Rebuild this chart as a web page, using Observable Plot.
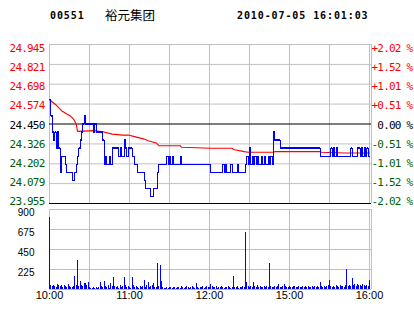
<!DOCTYPE html>
<html><head><meta charset="utf-8">
<script src="https://cdn.jsdelivr.net/npm/d3@7"></script>
<script src="https://cdn.jsdelivr.net/npm/@observablehq/plot@0.6"></script>
<style>
html,body{margin:0;padding:0;background:#fff;}
body{width:414px;height:314px;overflow:hidden;position:relative;}
#title{position:absolute;top:0;left:0;width:414px;height:30px;}
#title span{position:absolute;white-space:pre;color:#000;}
.mono{font:bold 10px "DejaVu Sans Mono";letter-spacing:0.9px;line-height:12px;top:10px;}
.cjk{font:12.5px "Noto Sans CJK SC";line-height:14px;top:8px;}
#chart svg{display:block;}
</style></head><body>
<div id="title"></div>
<div id="chart"></div>
<script>
// ---- data ----
const stockCode = "00551";
const stockName = "裕元集团";
const stamp = "2010-07-05 16:01:03";
const prevClose = 24.450;
const priceTicks = [24.945, 24.821, 24.698, 24.574, 24.450, 24.326, 24.202, 24.079, 23.955];
const pctTicks = [2.02, 1.52, 1.01, 0.51, 0.00, -0.51, -1.01, -1.52, -2.02];
const timeTicks = [0, 60, 120, 180, 240];
const timeLabels = ["10:00", "11:00", "12:00", "15:00", "16:00"];
const gridMinutes = [0, 30, 60, 90, 120, 150, 180, 210, 240, 241.5];
const volTicks = [225, 450, 675, 900];

// price (minutes since open, last trade price) - change points
const priceMin = [0,1,2,3,4,5,6,7,8,9,12,13,17,19,20,21,22,23,24,25,26,27,33,34,35,40,41,42,43,45,46,47,52,53,54,56,57,58,59,62,64,66,71,72,76,78,81,82,88,89,90,91,92,93,98,99,121,130,131,132,133,136,137,141,142,147,148,149,150,151,152,153,154,155,156,157,159,160,161,162,164,165,166,167,168,169,173,203,211,212,213,214,215,216,226,227,231,233,234,235,236,237,238,239,240];
const priceVal = [24.60,24.50,24.40,24.35,24.40,24.30,24.40,24.30,24.15,24.25,24.20,24.15,24.10,24.15,24.20,24.25,24.30,24.35,24.40,24.45,24.50,24.45,24.40,24.45,24.40,24.35,24.20,24.25,24.20,24.25,24.20,24.30,24.25,24.30,24.25,24.35,24.30,24.25,24.30,24.25,24.20,24.15,24.10,24.05,24.00,24.05,24.15,24.20,24.25,24.20,24.25,24.20,24.25,24.20,24.25,24.20,24.15,24.20,24.15,24.20,24.15,24.20,24.15,24.20,24.15,24.20,24.25,24.20,24.30,24.20,24.25,24.20,24.25,24.20,24.25,24.20,24.25,24.20,24.25,24.20,24.25,24.20,24.25,24.20,24.40,24.35,24.30,24.25,24.30,24.25,24.30,24.25,24.30,24.25,24.30,24.25,24.30,24.25,24.30,24.25,24.30,24.25,24.30,24.25,24.25];

// average price
const avgMin = [0,5,9,13,16,18,20,21,33,40,47,55,59,63,71,74,80,82,98,99,121,137,138,146,149,168,169,203,204,221,240];
const avgVal = [24.601,24.568,24.533,24.512,24.498,24.481,24.450,24.404,24.409,24.402,24.387,24.381,24.381,24.373,24.356,24.346,24.332,24.315,24.315,24.305,24.299,24.299,24.291,24.278,24.274,24.274,24.278,24.278,24.274,24.269,24.269];

// volume per minute (m = 0..240)
const volume = [
 815,50,35,45,30,20,55,40,30,45,
 25,40,35,20,55,30,25,20,30,150,
 40,326,30,85,45,30,65,70,40,75,
 20,10,15,25,10,20,15,25,75,30,
 20,95,30,25,40,15,65,30,140,35,
 20,30,15,45,25,30,130,40,20,30,
 25,15,140,40,20,35,25,15,30,20,
 30,105,25,50,75,20,30,40,65,25,
 20,290,30,265,85,20,10,15,25,15,
 20,25,15,20,25,15,20,25,15,30,
 20,15,25,35,20,15,25,30,20,15,
 65,20,15,25,20,30,15,25,35,20,
 20,55,30,25,20,35,15,20,25,30,
 20,15,25,20,30,25,15,20,150,25,
 20,30,15,25,20,30,25,645,75,30,
 20,35,25,75,30,20,40,25,30,20,
 25,30,20,35,25,293,30,20,25,35,
 20,30,56,25,20,35,56,30,20,25,
 30,25,20,35,30,25,20,30,25,20,
 30,25,35,20,30,25,20,30,25,35,
 20,30,25,82,30,20,35,25,30,45,
 105,30,25,35,20,40,30,25,45,30,
 35,25,50,229,30,45,35,120,40,56,
 35,56,40,50,30,56,45,35,50,30,
 105];

// ---- build ----
const title = document.getElementById("title");
title.innerHTML = `<span class="mono" style="left:50px">${stockCode}</span><span class="cjk" style="left:105px">${stockName}</span><span class="mono" style="left:237px">${stamp}</span>`;

const priceData = priceMin.map((m, i) => ({m, p: priceVal[i]}));
const avgData = avgMin.map((m, i) => ({m, p: avgVal[i]}));
const volData = volume.map((v, i) => ({m: i, v}));
const GRAY = "#c0c0c0", RED = "#ff0000", GREEN = "#006000", BLUE = "#0000ff";
const tone = v => Math.abs(v - prevClose) < 1e-9 ? "#000" : (v > prevClose ? RED : GREEN);
const mid = prevClose;
const squeeze = v => mid + (v - mid) * 0.965;

const xScale = {type: "linear", domain: [0, 241.5]};

const pricePlot = Plot.plot({
  width: 414, height: 206,
  marginLeft: 49, marginRight: 43, marginTop: 44, marginBottom: 3,
  x: {...xScale, axis: null},
  y: {domain: [23.955, 24.945], axis: null},
  color: {type: "identity"},
  style: "font-family:'DejaVu Sans Mono';font-size:11px;letter-spacing:-0.8px;overflow:visible;background:transparent",
  marks: [
    Plot.ruleY(priceTicks.filter(t => t !== prevClose && t !== 23.955), {stroke: GRAY}),
    Plot.ruleX(gridMinutes, {stroke: GRAY}),
    Plot.ruleY([prevClose, 23.955], {stroke: "#000"}),
    Plot.line(avgData, {x: "m", y: "p", stroke: RED, strokeWidth: 1.1}),
    Plot.line(priceData, {x: "m", y: "p", stroke: BLUE, strokeWidth: 1.2, curve: "step-after", shapeRendering: "crispEdges"}),
    Plot.text(priceTicks, {y: d => squeeze(d), text: d => d.toFixed(3), fill: d => tone(d), frameAnchor: "left", textAnchor: "end", dx: -5, dy: 1}),
    Plot.text(pctTicks, {y: d => squeeze(prevClose * (1 + d / 100)), text: d => (d > 0 ? "+" : d < 0 ? "-" : " ") + Math.abs(d).toFixed(2) + " %", fill: d => tone(prevClose * (1 + d / 100)), frameAnchor: "right", textAnchor: "start", dx: 0, dy: 1})
  ]
});

const volPlot = Plot.plot({
  width: 414, height: 108,
  marginLeft: 49, marginRight: 43, marginTop: 3, marginBottom: 25,
  x: {...xScale, axis: null},
  y: {domain: [0, 900], axis: null},
  style: "font-family:'Liberation Sans';font-size:10px;overflow:visible;background:transparent",
  marks: [
    Plot.ruleY([0, ...volTicks], {stroke: GRAY}),
    Plot.ruleX(gridMinutes, {stroke: GRAY}),
    Plot.ruleX(volData, {x: "m", y1: 0, y2: "v", stroke: BLUE, shapeRendering: "crispEdges"}),
    Plot.text(volTicks, {y: d => d, text: d => String(d), frameAnchor: "left", textAnchor: "end", dx: -15, dy: 3, fill: "#000"}),
    Plot.text(timeTicks, {x: d => d, text: (d, i) => timeLabels[i], frameAnchor: "bottom", dy: 9, fill: "#000", fontSize: 11})
  ]
});

const chart = document.getElementById("chart");
chart.append(pricePlot, volPlot);
</script>
</body></html>
